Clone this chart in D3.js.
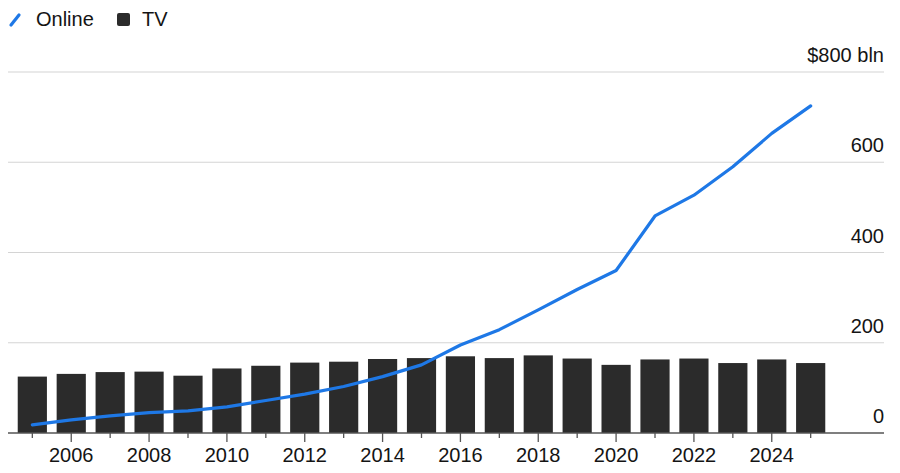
<!DOCTYPE html>
<html>
<head>
<meta charset="utf-8">
<script src="https://cdn.jsdelivr.net/npm/d3@7"></script>
<style>
  body { margin: 0; background: #fff; }
  text { font-family: "Liberation Sans", Arial, sans-serif; fill: #141414; }
</style>
</head>
<body>
<div id="chart"></div>
<script>
const width = 900
const height = 473

const blue = "#1e78e6"
const barFill = "#2b2b2b"
const gridGrey = "#d4d4d4"
const axisGrey = "#555555"

const years = d3.range(2005, 2026)
const tv = [125, 131, 135, 136, 127, 143, 149, 156, 158, 164, 166,
            170, 166, 172, 165, 151, 163, 165, 155, 163, 155]
const online = [18, 29, 38, 45, 49, 58, 72, 86, 103, 125, 151,
                195, 229, 273, 318, 360, 481, 527, 590, 664, 725]
const yTicks = [0, 200, 400, 600, 800]
const xLabels = [2006, 2008, 2010, 2012, 2014, 2016, 2018, 2020, 2022, 2024]

const fontSize = 20
const gridLeft = 8, gridRight = 884

const svg = d3.select("#chart")
  .append("svg")
  .attr("width", width)
  .attr("height", height)

const x = d3.scaleBand()
  .domain(years)
  .range([gridLeft, 835])
  .padding(0.25)

const y = d3.scaleLinear()
  .domain([0, 800])
  .range([433, 72])

// gridlines + right labels
svg.selectAll("line.grid")
  .data(yTicks.filter(d => d > 0))
  .join("line")
  .attr("class", "grid")
  .attr("x1", gridLeft).attr("x2", gridRight)
  .attr("y1", d => y(d)).attr("y2", d => y(d))
  .attr("stroke", gridGrey)
  .attr("stroke-width", 1.2)

svg.selectAll("text.ylab")
  .data(yTicks)
  .join("text")
  .attr("class", "ylab")
  .attr("x", gridRight)
  .attr("y", d => y(d) - 10)
  .attr("text-anchor", "end")
  .style("font-size", fontSize + "px")
  .text(d => d === 800 ? "$800 bln" : d)

// bars
svg.selectAll("rect.tv")
  .data(years)
  .join("rect")
  .attr("class", "tv")
  .attr("x", d => x(d))
  .attr("width", x.bandwidth())
  .attr("y", (d, i) => y(tv[i]))
  .attr("height", (d, i) => y(0) - y(tv[i]))
  .attr("fill", barFill)

// baseline and ticks
svg.append("line")
  .attr("x1", gridLeft).attr("x2", gridRight)
  .attr("y1", y(0)).attr("y2", y(0))
  .attr("stroke", axisGrey)
  .attr("stroke-width", 1.5)

const cx = d => x(d) + x.bandwidth() / 2

svg.selectAll("line.tick")
  .data(years)
  .join("line")
  .attr("class", "tick")
  .attr("x1", cx).attr("x2", cx)
  .attr("y1", y(0))
  .attr("y2", d => y(0) + (d % 2 === 0 ? 9 : 5))
  .attr("stroke", axisGrey)
  .attr("stroke-width", 1.3)

svg.selectAll("text.xlab")
  .data(xLabels)
  .join("text")
  .attr("class", "xlab")
  .attr("x", cx)
  .attr("y", 462)
  .attr("text-anchor", "middle")
  .style("font-size", fontSize + "px")
  .text(d => d)

// online line
const line = d3.line()
  .x((d, i) => cx(years[i]))
  .y(d => y(d))

svg.append("path")
  .datum(online)
  .attr("d", line)
  .attr("fill", "none")
  .attr("stroke", blue)
  .attr("stroke-width", 3.2)
  .attr("stroke-linejoin", "round")
  .attr("stroke-linecap", "round")

// legend
svg.append("line")
  .attr("x1", 11).attr("y1", 25)
  .attr("x2", 19).attr("y2", 15)
  .attr("stroke", blue)
  .attr("stroke-width", 3.2)
  .attr("stroke-linecap", "round")
svg.append("text")
  .attr("x", 36).attr("y", 26)
  .style("font-size", fontSize + "px")
  .text("Online")
svg.append("rect")
  .attr("x", 117).attr("y", 13)
  .attr("width", 13).attr("height", 13)
  .attr("rx", 2)
  .attr("fill", barFill)
svg.append("text")
  .attr("x", 142).attr("y", 26)
  .style("font-size", fontSize + "px")
  .text("TV")
</script>
</body>
</html>
